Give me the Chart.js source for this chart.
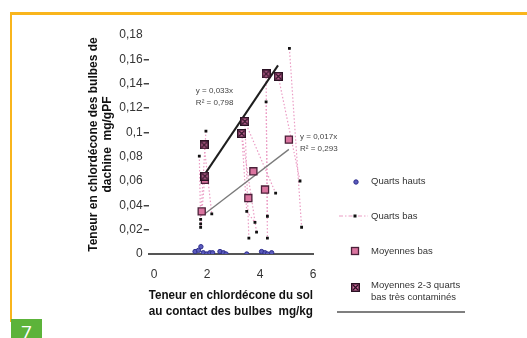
<!DOCTYPE html>
<html lang="fr">
<head>
  <meta charset="UTF-8">
  <title>Chlordécone dans la dachine</title>
  <script src="https://cdn.jsdelivr.net/npm/chart.js"></script>
  <style>
    body { margin: 0; background: #fff; }
    #wrap { position: relative; width: 527px; height: 338px; overflow: hidden; }
    .cadre {
      position: absolute; left: 10px; top: 12px; width: 530px; height: 307px;
      border-top: 3px solid #f9b51c; border-left: 2px solid #f9b51c;
    }
    .numero {
      position: absolute; left: 11px; top: 319px; width: 31px; height: 19px;
      background: #5cb33a; color: #fff; text-align: center;
      font: 19px "Open Sans", sans-serif; line-height: 26px;
    }
    canvas { position: absolute; left: 0; top: 0; }
  </style>
</head>
<body>
<div id="wrap">
  <div class="cadre"></div>
  <div class="numero">7</div>
  <canvas id="chart" width="527" height="338"></canvas>
</div>

<script>
// valeurs (x : mg/kg de sol, y : mg/gPF)
const xTicks = [0, 2, 4, 6];

const quartsHautsX = [1.55, 1.68, 1.77, 1.86, 1.99, 2.11, 2.21, 2.49, 2.62, 2.72, 3.50, 4.06, 4.19, 4.28, 4.44];
const quartsHautsY = [0.002, 0.003, 0.006, 0.001, 0.000, 0.001, 0.001, 0.002, 0.001, 0.000, 0.000, 0.002, 0.001, 0.000, 0.001];

// null = coupure du trait pointillé
const quartsBasX = [1.96, 1.76, null, 1.71, 1.76, null, 1.76, null, 2.18, null, 3.50, 3.81, null, 3.58, null, 3.87, null,
                    4.23, 4.28, null, 4.28, null, 4.59, null, 5.11, 5.57, null, 5.51];
const quartsBasY = [0.101, 0.0285, null, 0.0805, 0.0247, null, 0.0219, null, 0.033, null, 0.035, 0.026, null, 0.013, null, 0.018, null,
                    0.125, 0.031, null, 0.013, null, 0.050, null, 0.169, 0.022, null, 0.060];

// traits pointillés entre moyennes et quarts bas
const liensX = [3.43, 3.58, null, 3.43, 4.59, null, 3.31, 3.50, null, 3.31, 3.87, null, 4.23, 4.28, null,
                4.69, 5.51, null, 1.89, 2.18, null, 1.92, 1.76];
const liensY = [0.109, 0.013, null, 0.109, 0.050, null, 0.099, 0.035, null, 0.099, 0.018, null, 0.148, 0.013, null,
                0.146, 0.060, null, 0.0896, 0.033, null, 0.064, 0.0219];

const moyBasX = [1.80, 1.92, 3.56, 3.75, 4.19, 5.09];
const moyBasY = [0.035, 0.061, 0.046, 0.068, 0.053, 0.094];

const moy23X = [1.89, 1.92, 3.31, 3.43, 4.23, 4.69];
const moy23Y = [0.0896, 0.064, 0.099, 0.109, 0.148, 0.146];

// droites de tendance (extrémités lues)
const reg23X = [1.90, 4.68];
const reg23Y = [0.065, 0.155];
const regBasX = [1.92, 5.09];
const regBasY = [0.033, 0.086];

const equations = [
  { x: 1.58, y: 0.134, t: 'y = 0,033x' },
  { x: 1.58, y: 0.124, t: 'R² = 0,798' },
  { x: 5.51, y: 0.0962, t: 'y = 0,017x' },
  { x: 5.51, y: 0.0863, t: 'R² = 0,293' }
];

const tiretsMasques = [0, 6, 8, 18]; // en centièmes

const pts = (xs, ys) => xs.map((x, i) => ({ x: x, y: ys[i] }));

// carré rose barré pour les moyennes 2-3 quarts
const croix = document.createElement('canvas');
croix.width = 9; croix.height = 9;
(function () {
  const c = croix.getContext('2d');
  c.fillStyle = '#2b1224';
  c.fillRect(0, 0, 9, 9);
  c.fillStyle = '#cf6a9d';
  c.fillRect(1.5, 1.5, 6, 6);
  c.strokeStyle = '#2b1224';
  c.lineWidth = 1.3;
  c.beginPath();
  c.moveTo(2, 2); c.lineTo(7, 7);
  c.moveTo(7, 2); c.lineTo(2, 7);
  c.stroke();
})();

Chart.defaults.font.family = '"Liberation Sans", Arial, sans-serif';

const rose = '#eb9cc4';
const dash = [1.5, 2];

const legende = {
  id: 'legende',
  afterDraw(chart) {
    const ctx = chart.ctx;
    ctx.save();
    ctx.font = '9.5px "Liberation Sans", Arial, sans-serif';
    ctx.fillStyle = '#333';
    ctx.textBaseline = 'middle';
    ctx.textAlign = 'left';

    // Quarts hauts
    ctx.beginPath();
    ctx.arc(356, 182, 2.2, 0, Math.PI * 2);
    ctx.fillStyle = '#5b5bbd';
    ctx.fill();
    ctx.strokeStyle = '#2f2f8c';
    ctx.lineWidth = 1;
    ctx.stroke();
    ctx.fillStyle = '#333';
    ctx.fillText('Quarts hauts', 371, 181);

    // Quarts bas
    ctx.beginPath();
    ctx.setLineDash([4, 2, 1.5, 2]);
    ctx.strokeStyle = rose;
    ctx.moveTo(339, 216);
    ctx.lineTo(368, 216);
    ctx.stroke();
    ctx.setLineDash([]);
    ctx.fillStyle = '#111';
    ctx.fillRect(353.5, 214.5, 3, 3);
    ctx.fillStyle = '#333';
    ctx.fillText('Quarts bas', 371, 216);

    // Moyennes bas
    ctx.fillStyle = '#d9749f';
    ctx.fillRect(351.5, 247.5, 7, 7);
    ctx.strokeStyle = '#4b2039';
    ctx.lineWidth = 1.3;
    ctx.strokeRect(351.5, 247.5, 7, 7);
    ctx.fillStyle = '#333';
    ctx.fillText('Moyennes bas', 371, 251);

    // Moyennes 2-3 quarts
    ctx.drawImage(croix, 351, 283);
    ctx.fillStyle = '#333';
    ctx.fillText('Moyennes 2-3 quarts', 371, 285);
    ctx.fillText('bas très contaminés', 371, 297);

    ctx.beginPath();
    ctx.strokeStyle = '#555';
    ctx.lineWidth = 1.6;
    ctx.moveTo(337, 312);
    ctx.lineTo(465, 312);
    ctx.stroke();

    // équations des droites
    const sx = chart.scales.x, sy = chart.scales.y;
    ctx.font = '8px "Liberation Sans", Arial, sans-serif';
    ctx.fillStyle = '#444';
    equations.forEach(e => {
      ctx.fillText(e.t, sx.getPixelForValue(e.x), sy.getPixelForValue(e.y));
    });
    ctx.restore();
  }
};

new Chart(document.getElementById('chart'), {
  type: 'scatter',
  data: {
    datasets: [
      {
        label: 'Quarts hauts',
        data: pts(quartsHautsX, quartsHautsY),
        pointStyle: 'circle',
        pointRadius: 2.2,
        backgroundColor: '#5b5bbd',
        borderColor: '#2f2f8c',
        borderWidth: 1,
        order: 0
      },
      {
        label: 'Moyennes 2-3 quarts bas très contaminés',
        data: pts(moy23X, moy23Y),
        pointStyle: croix,
        pointRadius: 5,
        order: 1
      },
      {
        label: 'Moyennes bas',
        data: pts(moyBasX, moyBasY),
        pointStyle: 'rect',
        pointRadius: 5,
        backgroundColor: '#d9749f',
        borderColor: '#4b2039',
        borderWidth: 1.3,
        order: 2
      },
      {
        label: 'Tendance 2-3 quarts',
        data: pts(reg23X, reg23Y),
        showLine: true,
        borderColor: '#1e1e1e',
        borderWidth: 2,
        pointRadius: 0,
        order: 3
      },
      {
        label: 'Tendance moyennes bas',
        data: pts(regBasX, regBasY),
        showLine: true,
        borderColor: '#7a7a7a',
        borderWidth: 1.3,
        pointRadius: 0,
        order: 4
      },
      {
        label: 'Quarts bas',
        data: pts(quartsBasX, quartsBasY),
        showLine: true,
        spanGaps: false,
        borderColor: rose,
        borderWidth: 1.2,
        borderDash: dash,
        pointStyle: 'rect',
        pointRadius: 2,
        pointBackgroundColor: '#111',
        pointBorderColor: '#111',
        pointBorderWidth: 0,
        order: 5
      },
      {
        label: 'liens',
        data: pts(liensX, liensY),
        showLine: true,
        spanGaps: false,
        borderColor: rose,
        borderWidth: 1.2,
        borderDash: dash,
        pointRadius: 0,
        order: 6
      }
    ]
  },
  options: {
    responsive: false,
    animation: false,
    events: [],
    layout: { padding: { top: 35, right: 214, bottom: 0, left: 0 } },
    plugins: {
      legend: { display: false },
      tooltip: { enabled: false }
    },
    scales: {
      x: {
        type: 'linear',
        min: -0.2,
        max: 6,
        afterBuildTicks: s => { s.ticks = xTicks.map(v => ({ value: v })); },
        afterFit: s => { s.height = 84; },
        grid: { drawOnChartArea: false, drawTicks: false },
        border: { display: true, color: '#555', width: 2 },
        ticks: { padding: 13, color: '#333', font: { size: 12 } },
        title: {
          display: true,
          text: ['Teneur en chlordécone du sol', 'au contact des bulbes  mg/kg'],
          color: '#111',
          font: { size: 12, weight: 'bold', lineHeight: 1.3 },
          padding: { top: 0, bottom: 18.6 }
        }
      },
      y: {
        type: 'linear',
        min: 0,
        max: 0.18,
        afterFit: s => { s.width = 148.7; },
        grid: {
          drawOnChartArea: false,
          drawTicks: true,
          tickLength: 5,
          lineWidth: 1.5,
          color: c => tiretsMasques.includes(Math.round(c.tick.value * 100)) ? 'rgba(0,0,0,0)' : '#444'
        },
        border: { display: false },
        ticks: {
          stepSize: 0.02,
          padding: 1,
          color: '#333',
          font: { size: 12 },
          callback: v => String(+v.toFixed(2)).replace('.', ',')
        },
        title: {
          display: true,
          text: ['Teneur en chlordécone des bulbes de', 'dachine  mg/gPF'],
          color: '#111',
          font: { size: 12, weight: 'bold', lineHeight: 1.1 },
          padding: { top: 87.4, bottom: 0 }
        }
      }
    }
  },
  plugins: [legende]
});
</script>
</body>
</html>
